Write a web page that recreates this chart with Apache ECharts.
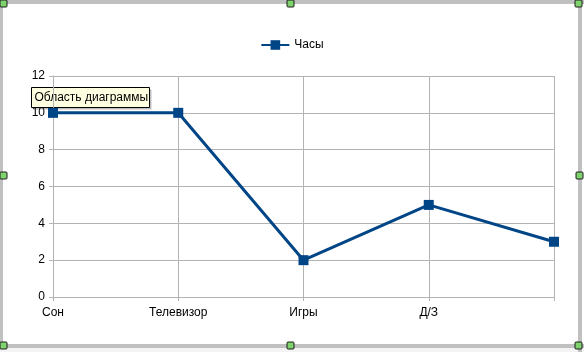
<!DOCTYPE html>
<html><head><meta charset="utf-8">
<script src="https://cdn.jsdelivr.net/npm/echarts@6/dist/echarts.min.js"></script>
<style>html,body{margin:0;padding:0;background:#fff}#c{width:584px;height:352px}</style>
</head><body><div id="c"></div>
<script>
const categories = ['Сон', 'Телевизор', 'Игры', 'Д/З', ''];
const hours = [10, 10, 2, 5, 3];
const seriesName = 'Часы';
const yTicks = { min: 0, max: 12, interval: 2 };

const chart = echarts.init(document.getElementById('c'));
const F = '"Liberation Sans", Arial, sans-serif';
const gray = '#c0c0c0';
function handle(x, y) {
  return { type: 'rect', shape: { x: x, y: y, width: 7, height: 7, r: 1 },
    style: { fill: '#7ed36f', stroke: '#1a1a1a', lineWidth: 1 }, z: 100 };
}
chart.setOption({
  animation: false,
  textStyle: { fontFamily: F },
  legend: {
    top: 34, left: 'center', itemWidth: 28, itemHeight: 12, itemGap: 3,
    textStyle: { fontSize: 12, color: '#000', fontFamily: F },
    data: [seriesName]
  },
  grid: { left: 53, right: 30, top: 76, bottom: 55 },
  xAxis: {
    type: 'category', data: categories, boundaryGap: false,
    axisLine: { lineStyle: { color: '#b3b3b3' } },
    axisTick: { show: true, length: 4, lineStyle: { color: '#b3b3b3' } },
    axisLabel: { color: '#000', fontSize: 12, fontFamily: F, margin: 10, interval: 0 },
    splitLine: { show: true, lineStyle: { color: '#b3b3b3', width: 1 } }
  },
  yAxis: {
    type: 'value', min: yTicks.min, max: yTicks.max, interval: yTicks.interval,
    axisLine: { show: true, lineStyle: { color: '#b3b3b3' } },
    axisTick: { show: true, length: 4, lineStyle: { color: '#b3b3b3' } },
    axisLabel: { color: '#000', fontSize: 12, fontFamily: F, margin: 8 },
    splitLine: { show: true, lineStyle: { color: '#b3b3b3', width: 1 } }
  },
  series: [{
    name: seriesName, type: 'line', data: hours,
    symbol: 'rect', symbolSize: 10,
    lineStyle: { color: '#004586', width: 3 },
    itemStyle: { color: '#004586' }
  }],
  graphic: [
    { type: 'rect', shape: { x: 0, y: 0, width: 584, height: 4 }, style: { fill: gray }, z: 90 },
    { type: 'rect', shape: { x: 0, y: 344, width: 584, height: 4 }, style: { fill: gray }, z: 90 },
    { type: 'rect', shape: { x: 0, y: 0, width: 3, height: 348 }, style: { fill: gray }, z: 90 },
    { type: 'rect', shape: { x: 578, y: 0, width: 4, height: 352 }, style: { fill: gray }, z: 90 },
    { type: 'rect', shape: { x: 0, y: 348, width: 584, height: 4 }, style: { fill: '#f4f4f4' }, z: 89 },
    handle(0, 0), handle(287, 0), handle(575, 0),
    handle(0, 172), handle(576, 172),
    handle(0, 342), handle(287, 342), handle(575, 342),
    {
      type: 'group', left: 31, top: 87, z: 120, children: [
        { type: 'rect', shape: { x: 2, y: 2, width: 118, height: 20 }, style: { fill: 'rgba(0,0,0,0.25)' } },
        { type: 'rect', shape: { x: 0, y: 0, width: 118, height: 20 }, style: { fill: '#ffffe1', stroke: '#000', lineWidth: 1 } },
        { type: 'text', x: 3, y: 4, style: { text: 'Область диаграммы', fontSize: 12, fontFamily: F, fill: '#000' } }
      ]
    }
  ]
});
</script></body></html>
